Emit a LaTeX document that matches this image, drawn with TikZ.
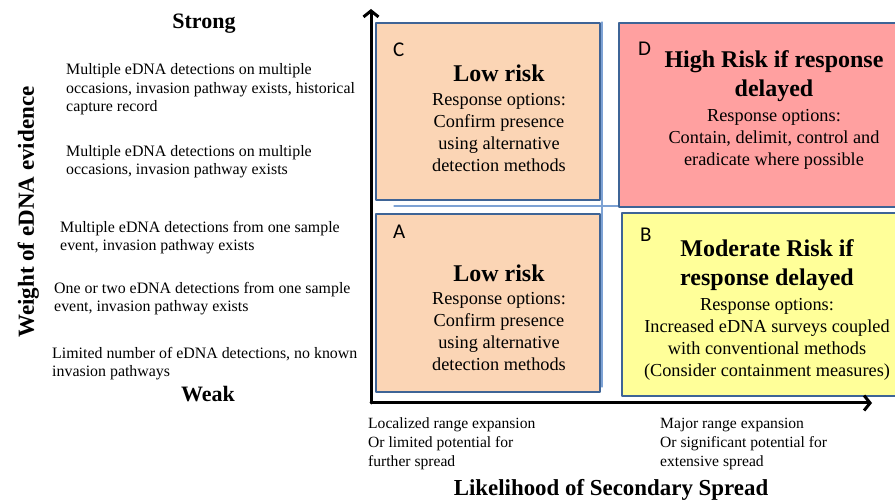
\documentclass[tikz,border=0pt]{standalone}
\usepackage{fontspec}
\setmainfont{Liberation Serif}
\newfontfamily\letterfont{Carlito}
\usetikzlibrary{arrows.meta}

\definecolor{peach}{RGB}{251,213,181}
\definecolor{riskred}{RGB}{255,160,160}
\definecolor{riskyellow}{RGB}{255,255,153}
\definecolor{boxblue}{RGB}{62,100,150}
\definecolor{thinblue}{RGB}{125,162,212}

\begin{document}
\begin{tikzpicture}[
    x=1pt,
    y=-1pt,
    line cap=round,
    line join=round,
    quad/.style={
        draw=boxblue,
        line width=1.8pt,
        inner sep=0pt,
        anchor=north west
    },
    letter/.style={font=\letterfont\fontsize{21}{21}\selectfont, anchor=base west, inner sep=0pt},
    title/.style={font=\bfseries\fontsize{24}{29}\selectfont, align=center, anchor=base, inner sep=0pt},
    body/.style={font=\fontsize{18.3}{22}\selectfont, align=center, anchor=base, inner sep=0pt},
    evidence/.style={font=\fontsize{15.9}{18.8}\selectfont, align=left, anchor=base west, inner sep=0pt},
    spread/.style={font=\fontsize{15.6}{19}\selectfont, align=left, anchor=base west, inner sep=0pt},
    axislabel/.style={font=\bfseries\fontsize{22.5}{22.5}\selectfont, anchor=base, inner sep=0pt},
    axis/.style={line width=3pt, -{Straight Barb[length=6pt,width=15pt,line width=3pt]}},
    divider/.style={draw=thinblue, line width=1.1pt}
]

% =========================================================
% Bounding box
% =========================================================

\useasboundingbox (0,0) rectangle (895,502);

% =========================================================
% Thin divider lines between the quadrants
% =========================================================

\coordinate (Vtop) at (602,22);
\coordinate (Vbot) at (602,387);
\coordinate (Hleft) at (394,206);
\coordinate (Hright) at (620,206);

\draw[divider] (Vtop)--(Vbot);
\draw[divider] (Hleft)--(Hright);

% =========================================================
% Quadrant boxes
% =========================================================

\node[quad, fill=peach, minimum width=224pt, minimum height=177pt] (C) at (375,22) {};
\node[quad, fill=peach, minimum width=224pt, minimum height=178pt] (A) at (375,213) {};
\node[quad, fill=riskred, minimum width=290pt, minimum height=184pt] (D) at (618,22) {};
\node[quad, fill=riskyellow, minimum width=290pt, minimum height=183pt] (B) at (621,212) {};

% =========================================================
% Letters
% =========================================================

\node[letter] (Cl) at (393,57) {C};
\node[letter] (Al) at (393,239) {A};
\node[letter] (Dl) at (638,56) {D};
\node[letter] (Bl) at (640,242) {B};

% =========================================================
% Quadrant C (anchor = baseline of last line)
% =========================================================

\node[title] (Ct) at (499,82) {Low risk};
\node[body] (Cb) at (499,172) {Response options:\\Confirm presence\\using alternative\\detection methods};

% =========================================================
% Quadrant A
% =========================================================

\node[title] (At) at (499,282) {Low risk};
\node[body] (Ab) at (499,371) {Response options:\\Confirm presence\\using alternative\\detection methods};

% =========================================================
% Quadrant D
% =========================================================

\node[title] (Dt) at (774,97) {High Risk if response\\delayed};
\node[body] (Db) at (774,166) {Response options:\\Contain, delimit, control and\\eradicate where possible};

% =========================================================
% Quadrant B
% =========================================================

\node[title] (Bt) at (767,286) {Moderate Risk if\\response delayed};
\node[body] (Bb) at (767,377) {Response options:\\Increased eDNA surveys coupled\\with conventional methods\\(Consider containment measures)};

% =========================================================
% Axes
% =========================================================

\coordinate (O) at (371,403);
\coordinate (Ytip) at (371,9);
\coordinate (Xtip) at (872,403);

\draw[axis] (O)--(Ytip);
\draw[axis] (O)--(Xtip);

% =========================================================
% Vertical axis texts
% =========================================================

\node[axislabel, font=\bfseries\fontsize{22}{22}\selectfont] (strong) at (204,29) {Strong};
\node[axislabel, font=\bfseries\fontsize{22}{22}\selectfont] (weak) at (208,402) {Weak};

\node[evidence] (ev5) at (66,112) {Multiple eDNA detections on multiple\\occasions, invasion pathway exists, historical\\capture record};
\node[evidence] (ev4) at (66,175) {Multiple eDNA detections on multiple\\occasions, invasion pathway exists};
\node[evidence] (ev3) at (60,251) {Multiple eDNA detections from one sample\\event, invasion pathway exists};
\node[evidence] (ev2) at (54,312) {One or two eDNA detections from one sample\\event, invasion pathway exists};
\node[evidence] (ev1) at (52,377) {Limited number of eDNA detections, no known\\invasion pathways};

\node[axislabel, rotate=90, font=\bfseries\fontsize{23}{23}\selectfont] (weight) at (34,212) {Weight of eDNA evidence};

% =========================================================
% Horizontal axis texts
% =========================================================

\node[spread] (local) at (368,467) {Localized range expansion\\Or limited potential for\\further spread};
\node[spread] (major) at (660,467) {Major range expansion\\Or significant potential for\\extensive spread};

\node[axislabel, font=\bfseries\fontsize{22.9}{22.9}\selectfont] (likely) at (611,496) {Likelihood of Secondary Spread};

\end{tikzpicture}
\end{document}
